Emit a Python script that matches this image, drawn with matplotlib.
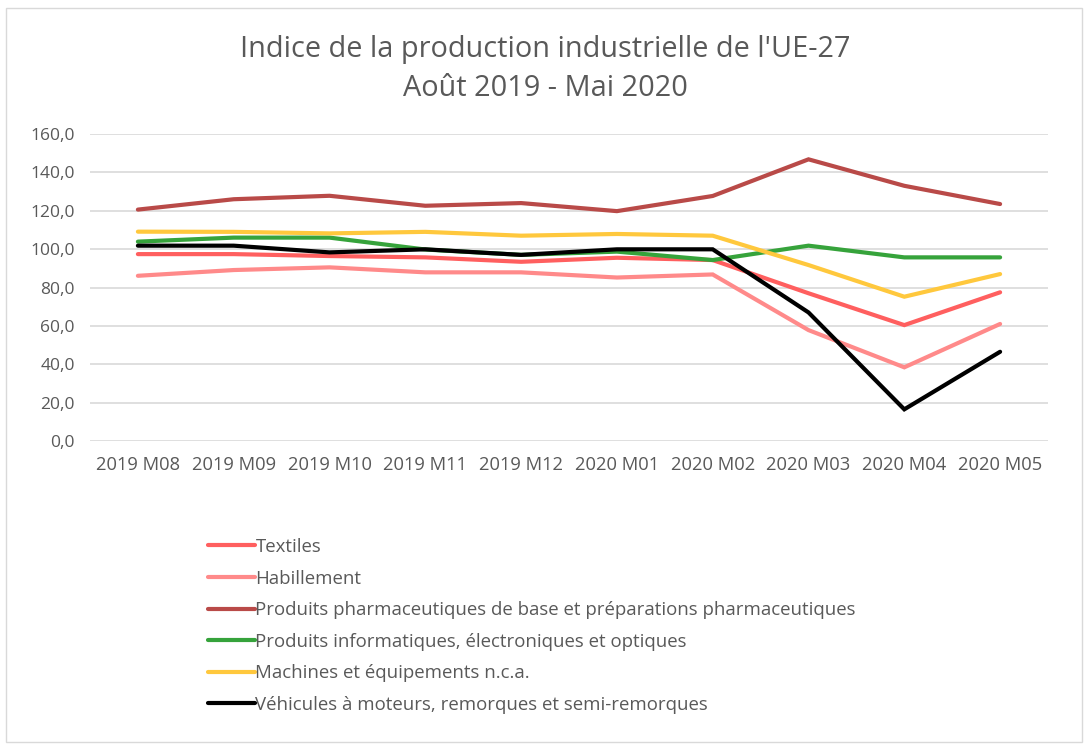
import matplotlib
matplotlib.use("Agg")
import matplotlib.pyplot as plt
from matplotlib.patches import Rectangle
from matplotlib.ticker import FuncFormatter

plt.rcParams['font.family'] = ['Open Sans', 'DejaVu Sans']

months = ["2019 M08", "2019 M09", "2019 M10", "2019 M11", "2019 M12",
          "2020 M01", "2020 M02", "2020 M03", "2020 M04", "2020 M05"]

textiles = [97.4, 97.4, 96.4, 95.7, 93.4, 95.5, 94.3, 77.0, 60.4, 77.5]
habillement = [86.1, 89.1, 90.5, 87.9, 87.9, 85.2, 86.8, 57.8, 38.4, 61.0]
pharma = [120.6, 126.0, 127.8, 122.6, 124.0, 119.8, 127.7, 146.8, 133.0, 123.5]
informatique = [103.9, 106.0, 106.0, 99.8, 97.0, 98.7, 94.3, 101.8, 95.7, 95.7]
machines = [109.1, 109.0, 108.2, 109.0, 107.0, 107.9, 107.0, 91.7, 75.2, 87.0]
vehicules = [101.8, 101.8, 98.3, 99.9, 97.0, 99.9, 99.9, 67.0, 16.5, 46.5]

series_labels = [
    "Textiles",
    "Habillement",
    "Produits pharmaceutiques de base et préparations pharmaceutiques",
    "Produits informatiques, électroniques et optiques",
    "Machines et équipements n.c.a.",
    "Véhicules à moteurs, remorques et semi-remorques",
]
series = [textiles, habillement, pharma, informatique, machines, vehicules]
colors = ["#FF5F5F", "#FF8A8A", "#B94A48", "#36A33B", "#FFC83D", "#000000"]

fig = plt.figure(figsize=(10.9, 7.48), dpi=100)
ax = fig.add_axes([90 / 1090, 1 - 441 / 748, (1048 - 90) / 1090, (441 - 134) / 748])

x = list(range(len(months)))
handles = []
for vals, lab, col in zip(series, series_labels, colors):
    h, = ax.plot(x, vals, color=col, lw=3.0, label=lab, solid_capstyle='round',
                 solid_joinstyle='miter')
    handles.append(h)

ax.set_xlim(-0.5, len(months) - 0.5)
ax.set_ylim(0, 160)
ax.set_yticks(range(0, 161, 20))
ax.yaxis.set_major_formatter(FuncFormatter(lambda v, p: f"{v:.1f}".replace('.', ',')))
ax.set_xticks(x)
ax.set_xticklabels(months)
ax.grid(axis='y', color='#D9D9D9', lw=1.2)
ax.set_axisbelow(True)
for s in ax.spines.values():
    s.set_visible(False)
ax.tick_params(axis='x', length=0, labelsize=13.2, colors='#595959', pad=11)
ax.tick_params(axis='y', length=0, labelsize=12.5, colors='#595959', pad=11)

fig.text(0.5, 1 - 50 / 748, "Indice de la production industrielle de l'UE-27",
         ha='center', va='center', fontsize=20.8, color='#595959')
fig.text(0.5, 1 - 89 / 748, "Août 2019 - Mai 2020",
         ha='center', va='center', fontsize=20.8, color='#595959')

leg = fig.legend(handles=handles, loc='upper left',
                 bbox_to_anchor=(208 / 1090, 1 - 538 / 748),
                 frameon=False, fontsize=13.4, labelcolor='#595959',
                 handlelength=2.5, handletextpad=0.05, labelspacing=0.73,
                 borderaxespad=0, borderpad=0)

fig.patches.append(Rectangle((6 / 1090, 6 / 748), 1076 / 1090, 734 / 748,
                             transform=fig.transFigure, fill=False,
                             edgecolor='#D9D9D9', lw=1))

fig.savefig("out.png", dpi=100, facecolor='white')
